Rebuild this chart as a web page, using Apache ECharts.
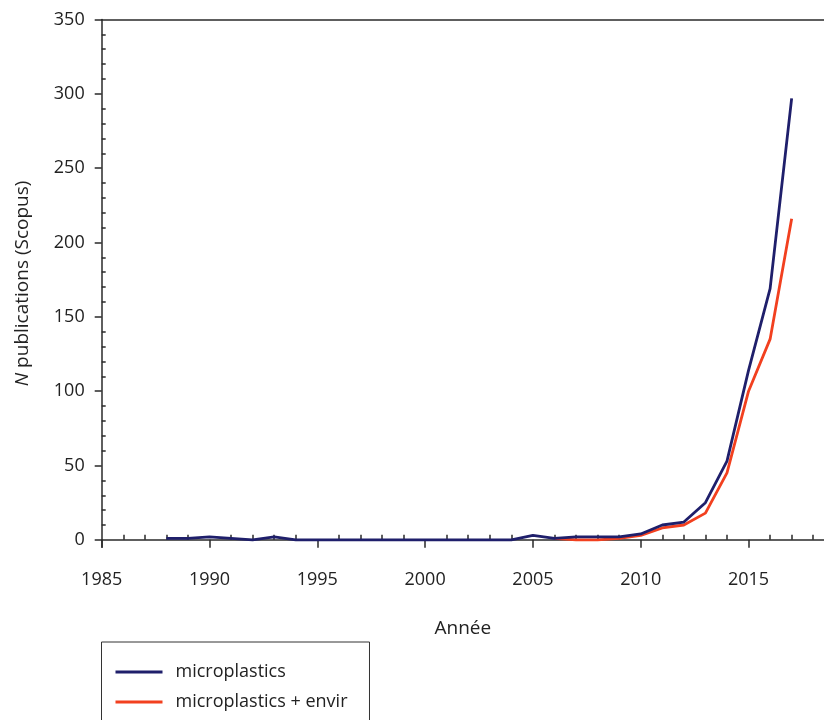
<!DOCTYPE html>
<html><head><meta charset="utf-8">
<script src="https://cdn.jsdelivr.net/npm/echarts@6/dist/echarts.min.js"></script>
<style>html,body{margin:0;padding:0;background:#fff}#c{width:824px;height:720px}</style>
</head><body><div id="c"></div>
<script>
var years = [1988,1989,1990,1991,1992,1993,1994,1995,1996,1997,1998,1999,2000,2001,2002,2003,2004,2005,2006,2007,2008,2009,2010,2011,2012,2013,2014,2015,2016,2017];
var microplastics = [1,1,2,1,0,2,0,0,0,0,0,0,0,0,0,0,0,3,1,2,2,2,4,10,12,25,53,114,169,297];
var envirYears = [2006,2007,2008,2009,2010,2011,2012,2013,2014,2015,2016,2017];
var microplasticsEnvir = [1,0,0,1,3,8,10,18,45,100,135,216];
var xMajorTicks = [1985,1990,1995,2000,2005,2010,2015];
var yMajorTicks = [0,50,100,150,200,250,300,350];

var xMinor = [], yMinor = [];
for (var y = 1986; y <= 2018; y++) if (y % 5 !== 0) xMinor.push(y);
for (var v = 10; v < 350; v += 10) if (v % 50 !== 0) yMinor.push(v);

function pairs(xs, vs){ return xs.map(function(x,i){ return [x, vs[i]]; }); }

var FONT = 'Open Sans';
var AX = '#2a2a2a';
var BLUE = '#1f1f6b', RED = '#f2401f';
var chart = echarts.init(document.getElementById('c'));
chart.setOption({
  animation: false,
  textStyle: {fontFamily: FONT},
  grid: {left: 101.7, right: 0, top: 19.5, bottom: 172.7, containLabel: false},
  xAxis: [
    {type: 'value', position: 'bottom', min: 1985, max: 2018.5,
     name: 'Année', nameLocation: 'middle', nameGap: 72,
     nameTextStyle: {fontSize: 19, color: '#222', fontFamily: FONT},
     axisLine: {show: true, lineStyle: {color: AX, width: 1.5}},
     axisTick: {show: true, inside: false, length: 8, customValues: xMajorTicks, lineStyle: {color: AX, width: 1.5}},
     axisLabel: {show: true, customValues: xMajorTicks, margin: 24, fontSize: 18, color: '#222', fontFamily: FONT,
       formatter: function(v){ return String(v); }},
     splitLine: {show: false}},
    {type: 'value', position: 'bottom', min: 1985, max: 2018.5,
     axisLine: {show: false},
     axisTick: {show: true, inside: true, length: 5, customValues: xMinor, lineStyle: {color: AX, width: 1.5}},
     axisLabel: {show: false}, splitLine: {show: false}},
    {type: 'value', position: 'top', min: 1985, max: 2018.5,
     axisLine: {show: true, lineStyle: {color: AX, width: 1.5}},
     axisTick: {show: false}, axisLabel: {show: false}, splitLine: {show: false}}
  ],
  yAxis: [
    {type: 'value', position: 'left', min: -5, max: 350,
     name: '{i|N} publications (Scopus)', nameLocation: 'middle', nameGap: 70,
     nameTextStyle: {fontSize: 19, color: '#222', fontFamily: FONT,
       rich: {i: {fontStyle: 'italic', fontSize: 19, color: '#222', fontFamily: FONT}}},
     axisLine: {show: true, lineStyle: {color: AX, width: 1.5}},
     axisTick: {show: true, inside: false, length: 7, customValues: yMajorTicks, lineStyle: {color: AX, width: 1.5}},
     axisLabel: {show: true, customValues: yMajorTicks, margin: 17, fontSize: 18, color: '#222', fontFamily: FONT},
     splitLine: {show: false}},
    {type: 'value', position: 'left', min: -5, max: 350,
     axisLine: {show: false},
     axisTick: {show: true, inside: true, length: 4, customValues: yMinor, lineStyle: {color: AX, width: 1.5}},
     axisLabel: {show: false}, splitLine: {show: false}}
  ],
  legend: {
    orient: 'vertical', left: 101.5, top: 642, height: 300,
    padding: [21, 22, 30, 14], itemGap: 12, itemWidth: 47, itemHeight: 3,
    icon: 'rect',
    borderColor: '#333', borderWidth: 1, backgroundColor: '#fff',
    textStyle: {fontSize: 18, lineHeight: 18, color: '#222', fontFamily: FONT, padding: [0, 0, 0, 8]},
    data: [{name: 'microplastics', itemStyle: {color: BLUE}}, {name: 'microplastics + envir', itemStyle: {color: RED}}]
  },
  series: [
    {name: 'microplastics', type: 'line', xAxisIndex: 0, yAxisIndex: 0,
     data: pairs(years, microplastics), showSymbol: false, symbol: 'none',
     lineStyle: {color: BLUE, width: 2.8}, itemStyle: {color: BLUE}, z: 3},
    {name: 'microplastics + envir', type: 'line', xAxisIndex: 0, yAxisIndex: 0,
     data: pairs(envirYears, microplasticsEnvir), showSymbol: false, symbol: 'none',
     lineStyle: {color: RED, width: 2.8}, itemStyle: {color: RED}, z: 2}
  ]
});
</script></body></html>
